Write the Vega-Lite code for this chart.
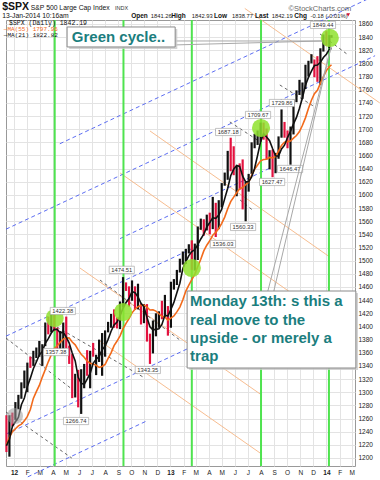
{
"$schema": "https://vega.github.io/schema/vega-lite/v6.json",
"width": 349, "height": 446,
"autosize": {"type": "none"},
"padding": {"left": 6, "top": 20, "right": 25, "bottom": 14},
"background": "white",
"config": {"view": {"stroke": "#999", "strokeWidth": 1}, "font": "Liberation Sans", "axisY": {"labelOverlap": false, "tickCount": 40}},
"datasets": {
"px": [
{"d":"2011-12-14","o":1255,"h":1265,"l":1209,"c":1219,"m21":1218.6,"m55":1220.3},
{"d":"2011-12-21","o":1219,"h":1265,"l":1202,"c":1265,"m21":1228.4,"m55":1231.5},
{"d":"2011-12-28","o":1265,"h":1269,"l":1248,"c":1258,"m21":1248.2,"m55":1240.1},
{"d":"2012-01-04","o":1258,"h":1285,"l":1258,"c":1278,"m21":1255,"m55":1244.5},
{"d":"2012-01-11","o":1278,"h":1296,"l":1274,"c":1289,"m21":1261.8,"m55":1248.8},
{"d":"2012-01-18","o":1290,"h":1315,"l":1290,"c":1315,"m21":1281,"m55":1251.3},
{"d":"2012-01-25","o":1315,"h":1333,"l":1306,"c":1316,"m21":1291.2,"m55":1256.5},
{"d":"2012-02-01","o":1316,"h":1345,"l":1300,"c":1345,"m21":1308.6,"m55":1263.3},
{"d":"2012-02-08","o":1344,"h":1354,"l":1337,"c":1342,"m21":1321.4,"m55":1273.8},
{"d":"2012-02-15","o":1343,"h":1363,"l":1340,"c":1361,"m21":1335.8,"m55":1290.6},
{"d":"2012-02-22","o":1362,"h":1368,"l":1352,"c":1366,"m21":1346,"m55":1300.8},
{"d":"2012-02-29","o":1366,"h":1378,"l":1354,"c":1370,"m21":1356.8,"m55":1310.3},
{"d":"2012-03-07","o":1370,"h":1373,"l":1340,"c":1371,"m21":1362,"m55":1323},
{"d":"2012-03-14","o":1371,"h":1406,"l":1370,"c":1404,"m21":1374.4,"m55":1334.6},
{"d":"2012-03-21","o":1404,"h":1415,"l":1388,"c":1397,"m21":1381.6,"m55":1346.2},
{"d":"2012-03-28","o":1397,"h":1419,"l":1391,"c":1408,"m21":1390,"m55":1357},
{"d":"2012-04-04","o":1408,"h":1422,"l":1393,"c":1398,"m21":1395.6,"m55":1366.1},
{"d":"2012-04-11","o":1398,"h":1398,"l":1357,"c":1370,"m21":1395.4,"m55":1370.7},
{"d":"2012-04-18","o":1370,"h":1393,"l":1360,"c":1378,"m21":1390.2,"m55":1375.8},
{"d":"2012-04-25","o":1378,"h":1406,"l":1366,"c":1403,"m21":1391.4,"m55":1380.7},
{"d":"2012-05-02","o":1403,"h":1415,"l":1367,"c":1369,"m21":1383.6,"m55":1382.9},
{"d":"2012-05-09","o":1369,"h":1371,"l":1343,"c":1353,"m21":1374.6,"m55":1382.3},
{"d":"2012-05-16","o":1353,"h":1358,"l":1291,"c":1295,"m21":1359.6,"m55":1376.3},
{"d":"2012-05-23","o":1295,"h":1328,"l":1292,"c":1318,"m21":1347.6,"m55":1372},
{"d":"2012-05-30","o":1318,"h":1334,"l":1277,"c":1278,"m21":1322.6,"m55":1364.3},
{"d":"2012-06-06","o":1278,"h":1335,"l":1267,"c":1325,"m21":1313.8,"m55":1357.7},
{"d":"2012-06-13","o":1325,"h":1343,"l":1306,"c":1343,"m21":1311.8,"m55":1353.2},
{"d":"2012-06-20","o":1343,"h":1364,"l":1325,"c":1335,"m21":1319.8,"m55":1347.1},
{"d":"2012-06-27","o":1335,"h":1363,"l":1306,"c":1362,"m21":1328.6,"m55":1344.1},
{"d":"2012-07-04","o":1362,"h":1375,"l":1354,"c":1355,"m21":1344,"m55":1342.8},
{"d":"2012-07-11","o":1355,"h":1357,"l":1326,"c":1356,"m21":1350.2,"m55":1341},
{"d":"2012-07-18","o":1356,"h":1380,"l":1346,"c":1363,"m21":1354.2,"m55":1337.7},
{"d":"2012-07-25","o":1363,"h":1390,"l":1325,"c":1386,"m21":1364.4,"m55":1339.1},
{"d":"2012-08-01","o":1386,"h":1394,"l":1354,"c":1391,"m21":1370.2,"m55":1342.3},
{"d":"2012-08-08","o":1391,"h":1407,"l":1391,"c":1406,"m21":1380.4,"m55":1351.5},
{"d":"2012-08-15","o":1406,"h":1419,"l":1398,"c":1418,"m21":1392.8,"m55":1359.8},
{"d":"2012-08-22","o":1418,"h":1426,"l":1398,"c":1411,"m21":1402.4,"m55":1370.9},
{"d":"2012-08-29","o":1411,"h":1414,"l":1397,"c":1407,"m21":1406.6,"m55":1377.8},
{"d":"2012-09-05","o":1407,"h":1438,"l":1396,"c":1438,"m21":1416,"m55":1385.7},
{"d":"2012-09-12","o":1438,"h":1475,"l":1429,"c":1466,"m21":1428,"m55":1396.6},
{"d":"2012-09-19","o":1466,"h":1467,"l":1454,"c":1460,"m21":1436.4,"m55":1404.8},
{"d":"2012-09-26","o":1460,"h":1461,"l":1430,"c":1441,"m21":1442.4,"m55":1411.9},
{"d":"2012-10-03","o":1441,"h":1470,"l":1439,"c":1461,"m21":1453.2,"m55":1420.7},
{"d":"2012-10-10","o":1461,"h":1461,"l":1425,"c":1429,"m21":1451.4,"m55":1426.2},
{"d":"2012-10-17","o":1429,"h":1465,"l":1426,"c":1433,"m21":1444.8,"m55":1430.1},
{"d":"2012-10-24","o":1433,"h":1435,"l":1403,"c":1412,"m21":1435.2,"m55":1431.8},
{"d":"2012-10-31","o":1412,"h":1434,"l":1405,"c":1414,"m21":1429.8,"m55":1432.5},
{"d":"2012-11-07","o":1414,"h":1434,"l":1377,"c":1380,"m21":1413.6,"m55":1429.3},
{"d":"2012-11-14","o":1380,"h":1389,"l":1343,"c":1359,"m21":1399.6,"m55":1425},
{"d":"2012-11-21","o":1359,"h":1409,"l":1359,"c":1409,"m21":1394.8,"m55":1425.2},
{"d":"2012-11-28","o":1409,"h":1420,"l":1385,"c":1416,"m21":1395.6,"m55":1423.3},
{"d":"2012-12-05","o":1416,"h":1423,"l":1398,"c":1418,"m21":1396.4,"m55":1419.3},
{"d":"2012-12-12","o":1418,"h":1439,"l":1411,"c":1413,"m21":1403,"m55":1415.4},
{"d":"2012-12-19","o":1413,"h":1448,"l":1413,"c":1430,"m21":1417.2,"m55":1414.5},
{"d":"2012-12-26","o":1430,"h":1431,"l":1386,"c":1402,"m21":1415.8,"m55":1409.6},
{"d":"2013-01-02","o":1402,"h":1468,"l":1398,"c":1466,"m21":1425.8,"m55":1412.7},
{"d":"2013-01-09","o":1466,"h":1472,"l":1456,"c":1472,"m21":1436.6,"m55":1415.9},
{"d":"2013-01-16","o":1472,"h":1486,"l":1463,"c":1486,"m21":1451.2,"m55":1422.1},
{"d":"2013-01-23","o":1486,"h":1503,"l":1482,"c":1503,"m21":1465.8,"m55":1429.5},
{"d":"2013-01-30","o":1503,"h":1514,"l":1494,"c":1513,"m21":1488,"m55":1440.6},
{"d":"2013-02-06","o":1513,"h":1518,"l":1495,"c":1518,"m21":1498.4,"m55":1453.8},
{"d":"2013-02-13","o":1518,"h":1525,"l":1511,"c":1519,"m21":1507.8,"m55":1463},
{"d":"2013-02-20","o":1519,"h":1531,"l":1486,"c":1516,"m21":1513.8,"m55":1471.3},
{"d":"2013-02-27","o":1516,"h":1526,"l":1485,"c":1518,"m21":1516.8,"m55":1479.7},
{"d":"2013-03-06","o":1518,"h":1552,"l":1501,"c":1551,"m21":1524.4,"m55":1491.2},
{"d":"2013-03-13","o":1551,"h":1564,"l":1547,"c":1561,"m21":1533,"m55":1502.1},
{"d":"2013-03-20","o":1561,"h":1563,"l":1538,"c":1556,"m21":1540.4,"m55":1514.9},
{"d":"2013-03-27","o":1556,"h":1570,"l":1546,"c":1569,"m21":1551,"m55":1523.5},
{"d":"2013-04-03","o":1569,"h":1573,"l":1540,"c":1553,"m21":1558,"m55":1530.3},
{"d":"2013-04-10","o":1553,"h":1597,"l":1548,"c":1588,"m21":1565.4,"m55":1538.8},
{"d":"2013-04-17","o":1588,"h":1588,"l":1536,"c":1555,"m21":1564.2,"m55":1543.1},
{"d":"2013-04-24","o":1555,"h":1592,"l":1548,"c":1582,"m21":1569.4,"m55":1548.8},
{"d":"2013-05-01","o":1582,"h":1618,"l":1581,"c":1614,"m21":1578.4,"m55":1556.8},
{"d":"2013-05-08","o":1614,"h":1634,"l":1614,"c":1633,"m21":1594.4,"m55":1566.3},
{"d":"2013-05-15","o":1633,"h":1667,"l":1623,"c":1667,"m21":1610.2,"m55":1578.9},
{"d":"2013-05-22","o":1667,"h":1687,"l":1636,"c":1650,"m21":1629.2,"m55":1589.9},
{"d":"2013-05-29","o":1650,"h":1674,"l":1630,"c":1631,"m21":1639,"m55":1596.6},
{"d":"2013-06-05","o":1631,"h":1644,"l":1598,"c":1643,"m21":1644.8,"m55":1603.4},
{"d":"2013-06-12","o":1643,"h":1648,"l":1608,"c":1626,"m21":1643.4,"m55":1609.3},
{"d":"2013-06-19","o":1626,"h":1654,"l":1578,"c":1593,"m21":1628.6,"m55":1611.3},
{"d":"2013-06-26","o":1593,"h":1620,"l":1560,"c":1606,"m21":1619.8,"m55":1615.7},
{"d":"2013-07-03","o":1606,"h":1632,"l":1605,"c":1632,"m21":1620,"m55":1619.3},
{"d":"2013-07-10","o":1632,"h":1680,"l":1632,"c":1680,"m21":1627.4,"m55":1629.8},
{"d":"2013-07-17","o":1680,"h":1693,"l":1671,"c":1692,"m21":1640.6,"m55":1638.9},
{"d":"2013-07-24","o":1692,"h":1698,"l":1676,"c":1692,"m21":1660.4,"m55":1645.4},
{"d":"2013-07-31","o":1692,"h":1710,"l":1681,"c":1710,"m21":1681.2,"m55":1651.8},
{"d":"2013-08-07","o":1710,"h":1710,"l":1684,"c":1691,"m21":1693,"m55":1653.8},
{"d":"2013-08-14","o":1691,"h":1701,"l":1654,"c":1655,"m21":1688,"m55":1654.3},
{"d":"2013-08-21","o":1655,"h":1668,"l":1639,"c":1664,"m21":1682.4,"m55":1657},
{"d":"2013-08-28","o":1664,"h":1669,"l":1627,"c":1633,"m21":1670.6,"m55":1656.2},
{"d":"2013-09-04","o":1633,"h":1664,"l":1633,"c":1655,"m21":1659.6,"m55":1658.6},
{"d":"2013-09-11","o":1655,"h":1689,"l":1655,"c":1688,"m21":1659,"m55":1666.5},
{"d":"2013-09-18","o":1688,"h":1730,"l":1687,"c":1710,"m21":1670,"m55":1675.2},
{"d":"2013-09-25","o":1710,"h":1711,"l":1687,"c":1692,"m21":1675.6,"m55":1680.2},
{"d":"2013-10-02","o":1692,"h":1698,"l":1671,"c":1691,"m21":1687.2,"m55":1681.1},
{"d":"2013-10-09","o":1691,"h":1704,"l":1646,"c":1703,"m21":1696.8,"m55":1682},
{"d":"2013-10-16","o":1703,"h":1745,"l":1692,"c":1744,"m21":1708,"m55":1686.3},
{"d":"2013-10-23","o":1744,"h":1759,"l":1741,"c":1759,"m21":1717.8,"m55":1690.4},
{"d":"2013-10-30","o":1759,"h":1775,"l":1752,"c":1762,"m21":1731.8,"m55":1696.3},
{"d":"2013-11-06","o":1762,"h":1771,"l":1746,"c":1771,"m21":1747.8,"m55":1706},
{"d":"2013-11-13","o":1771,"h":1798,"l":1761,"c":1798,"m21":1766.8,"m55":1717.2},
{"d":"2013-11-20","o":1798,"h":1804,"l":1780,"c":1804,"m21":1778.8,"m55":1731.4},
{"d":"2013-11-27","o":1804,"h":1814,"l":1800,"c":1806,"m21":1788.2,"m55":1744},
{"d":"2013-12-04","o":1806,"h":1806,"l":1779,"c":1805,"m21":1796.8,"m55":1753.8},
{"d":"2013-12-11","o":1805,"h":1811,"l":1772,"c":1775,"m21":1797.6,"m55":1759.2},
{"d":"2013-12-18","o":1775,"h":1823,"l":1767,"c":1818,"m21":1801.6,"m55":1769.7},
{"d":"2013-12-25","o":1818,"h":1844,"l":1818,"c":1841,"m21":1809,"m55":1780},
{"d":"2014-01-01","o":1841,"h":1849,"l":1827,"c":1831,"m21":1814,"m55":1789},
{"d":"2014-01-08","o":1831,"h":1843,"l":1823,"c":1842,"m21":1821.4,"m55":1795},
{"d":"2014-01-13","o":1841,"h":1843,"l":1839,"c":1842,"m21":1822.8,"m55":1798}
]
},
"layer": [
{"data": {"values": [
{"d":"2013-06-24","v":1883.6,"d2":"2014-05-06","v2":1739.9},
{"d":"2012-11-14","v":1697.3,"d2":"2014-01-09","v2":1505.6},
{"d":"2012-09-05","v":1633.4,"d2":"2013-10-31","v2":1441.7},
{"d":"2012-06-03","v":1488.9,"d2":"2013-07-30","v2":1297.3},
{"d":"2012-07-20","v":1377.9,"d2":"2013-07-30","v2":1207.5}]},
"mark": {"type":"rule","color":"#f6b583","strokeWidth":0.9},
"encoding": {
"x": {"field":"d","type":"temporal","scale":{"domain":[{"year":2011,"month":12,"date":13},{"year":2014,"month":3,"date":9}]},"title":null,
"axis":{"tickCount":{"interval":"month","step":1},"labelExpr":"month(datum.value)==0 ? timeFormat(datum.value,'%y') : slice(timeFormat(datum.value,'%b'),0,1)","labelFontSize":6.5,"labelColor":"#222","labelFontWeight":{"condition":{"test":"month(datum.value)==0","value":"bold"},"value":"normal"},"grid":true,"gridColor":"#e3e3e3","ticks":false,"domain":false,"labelPadding":3,"labelOverlap":false,"labelFlush":false}},
"y": {"field":"v","type":"quantitative","scale":{"domain":[1187.8,1866],"nice":false,"zero":false},"title":null,
"axis":{"orient":"right","tickCount":40,"values":[1200,1220,1240,1260,1280,1300,1320,1340,1360,1380,1400,1420,1440,1460,1480,1500,1520,1540,1560,1580,1600,1620,1640,1660,1680,1700,1720,1740,1760,1780,1800,1820,1840,1860],"format":"d","labelOverlap":false,"labelFontSize":6.5,"labelColor":"#222","grid":true,"gridColor":"#e3e3e3","ticks":false,"domain":false,"labelPadding":3}},
"x2": {"field":"d2"}, "y2": {"field":"v2"}}},
{"data": {"values": [
{"d":"2012-02-02","v":1171.3,"d2":"2012-11-09","v2":1257.1},
{"d":"2011-12-13","v":1236.1,"d2":"2013-06-24","v2":1407.1},
{"d":"2011-12-13","v":1385.2,"d2":"2013-03-11","v2":1523.9},
{"d":"2012-09-05","v":1533.6,"d2":"2013-08-22","v2":1640.8},
{"d":"2011-12-13","v":1547.9,"d2":"2014-04-25","v2":1811.7},
{"d":"2012-04-17","v":1677.8,"d2":"2014-05-06","v2":1906.5}]},
"mark": {"type":"rule","color":"#4a5cf0","strokeWidth":0.9,"strokeDash":[4,3]},
"encoding": {
"x": {"field":"d","type":"temporal","scale":{"domain":[{"year":2011,"month":12,"date":13},{"year":2014,"month":3,"date":9}]},"title":null},
"y": {"field":"v","type":"quantitative","scale":{"domain":[1187.8,1866],"nice":false,"zero":false},"title":null},
"x2": {"field":"d2"}, "y2": {"field":"v2"}}},
{"data": {"values": [
{"d":"2011-12-13","v":1382.4,"d2":"2012-05-18","v2":1303.4},
{"d":"2011-12-13","v":1269.9,"d2":"2012-05-15","v2":1199.9},
{"d":"2012-04-10","v":1399.2,"d2":"2012-10-29","v2":1323.1},
{"d":"2012-07-20","v":1470.6,"d2":"2013-01-23","v2":1379.4},
{"d":"2013-09-14","v":1767.2,"d2":"2013-12-05","v2":1733.8},
{"d":"2013-05-20","v":1711,"d2":"2013-08-03","v2":1679},
{"d":"2013-06-13","v":1592.3,"d2":"2013-07-12","v2":1577.1},
{"d":"2013-12-17","v":1844.8,"d2":"2014-02-21","v2":1812.9}]},
"mark": {"type":"rule","color":"#555","strokeWidth":0.9,"strokeDash":[3,3]},
"encoding": {
"x": {"field":"d","type":"temporal","scale":{"domain":[{"year":2011,"month":12,"date":13},{"year":2014,"month":3,"date":9}]},"title":null},
"y": {"field":"v","type":"quantitative","scale":{"domain":[1187.8,1866],"nice":false,"zero":false},"title":null},
"x2": {"field":"d2"}, "y2": {"field":"v2"}}},
{"data": {"values": [{"d":"2012-04-05"},{"d":"2012-09-13"},{"d":"2013-02-20"},{"d":"2013-08-01"},{"d":"2014-01-07"}]},
"mark": {"type":"rule","color":"#4fe34f","strokeWidth":2},
"encoding": {
"x": {"field":"d","type":"temporal","scale":{"domain":[{"year":2011,"month":12,"date":13},{"year":2014,"month":3,"date":9}]},"title":null}}},
{"data": {"name":"px"},
"mark": {"type":"rule","strokeWidth":2.2},
"encoding": {
"x": {"field":"d","type":"temporal","scale":{"domain":[{"year":2011,"month":12,"date":13},{"year":2014,"month":3,"date":9}]},"title":null},
"y": {"field":"l","type":"quantitative","scale":{"domain":[1187.8,1866],"nice":false,"zero":false},"title":null},
"y2": {"field":"h"},
"color": {"condition":{"test":"datum.c >= datum.o","value":"#111111"},"value":"#e3123f"}}},
{"data": {"name":"px"},
"mark": {"type":"line","color":"#f26a1b","strokeWidth":1.6},
"encoding": {
"x": {"field":"d","type":"temporal","scale":{"domain":[{"year":2011,"month":12,"date":13},{"year":2014,"month":3,"date":9}]},"title":null},
"y": {"field":"m55","type":"quantitative","scale":{"domain":[1187.8,1866],"nice":false,"zero":false},"title":null}}},
{"data": {"name":"px"},
"mark": {"type":"line","color":"#111111","strokeWidth":1.6},
"encoding": {
"x": {"field":"d","type":"temporal","scale":{"domain":[{"year":2011,"month":12,"date":13},{"year":2014,"month":3,"date":9}]},"title":null},
"y": {"field":"m21","type":"quantitative","scale":{"domain":[1187.8,1866],"nice":false,"zero":false},"title":null}}},
{"data": {"values": [{"d":"2012-04-05","v":1412.9},{"d":"2012-09-12","v":1422},{"d":"2013-02-20","v":1488.9},{"d":"2013-08-01","v":1701.8},{"d":"2014-01-09","v":1838.7}]},
"mark": {"type":"point","filled":true,"color":"#8fe22e","opacity":0.85,"size":330,"shape":"circle"},
"encoding": {
"x": {"field":"d","type":"temporal","scale":{"domain":[{"year":2011,"month":12,"date":13},{"year":2014,"month":3,"date":9}]},"title":null},
"y": {"field":"v","type":"quantitative","scale":{"domain":[1187.8,1866],"nice":false,"zero":false},"title":null}}},
{"data": {"values": [{"d":"2012-01-03","v":1263.8}]},
"mark": {"type":"point","filled":true,"color":"#9a9a9a","opacity":0.55,"size":260,"shape":"circle"},
"encoding": {
"x": {"field":"d","type":"temporal","scale":{"domain":[{"year":2011,"month":12,"date":13},{"year":2014,"month":3,"date":9}]},"title":null},
"y": {"field":"v","type":"quantitative","scale":{"domain":[1187.8,1866],"nice":false,"zero":false},"title":null}}},
{"data": {"values": [
{"t":"1849.44","d":"2013-12-24","v":1858.5},
{"t":"1729.86","d":"2013-09-19","v":1739.8},
{"t":"1709.67","d":"2013-07-25","v":1721.6},
{"t":"1687.18","d":"2013-05-16","v":1695.7},
{"t":"1627.47","d":"2013-08-27","v":1619.7},
{"t":"1646.47","d":"2013-10-08","v":1639.5},
{"t":"1560.33","d":"2013-06-20","v":1551.3},
{"t":"1536.03","d":"2013-05-04","v":1525.4},
{"t":"1474.51","d":"2012-09-09","v":1486.1},
{"t":"1422.38","d":"2012-04-24","v":1423.5},
{"t":"1357.38","d":"2012-04-08","v":1361.1},
{"t":"1343.35","d":"2012-11-09","v":1333.8},
{"t":"1266.74","d":"2012-05-25","v":1256.2}]},
"layer": [
{"mark": {"type":"point","shape":"M-1.75,-0.5H1.75V0.5H-1.75Z","size":207,"filled":true,"fill":"#ffffff","stroke":"#9a9a9a","strokeWidth":0.6,"opacity":1}},
{"mark": {"type":"text","fontSize":5.8,"color":"#333","align":"center","baseline":"middle"},"encoding":{"text":{"field":"t"}}}],
"encoding": {
"x": {"field":"d","type":"temporal","scale":{"domain":[{"year":2011,"month":12,"date":13},{"year":2014,"month":3,"date":9}]},"title":null},
"y": {"field":"v","type":"quantitative","scale":{"domain":[1187.8,1866],"nice":false,"zero":false},"title":null}}},
{"data": {"values": [{"t":"$SPX (Daily) 1842.19","d":"2011-12-20","v":1860.8}]},
"mark": {"type":"text","font":"Liberation Mono","fontSize":6.5,"color":"#111","align":"left","baseline":"middle"},
"encoding": {
"x": {"field":"d","type":"temporal","scale":{"domain":[{"year":2011,"month":12,"date":13},{"year":2014,"month":3,"date":9}]},"title":null},
"y": {"field":"v","type":"quantitative","scale":{"domain":[1187.8,1866],"nice":false,"zero":false},"title":null},
"text": {"field":"t"}}},
{"data": {"values": [{"t":"—MA(55) 1797.96","d":"2011-12-08","v":1851.6}]},
"mark": {"type":"text","font":"Liberation Mono","fontSize":6,"color":"#f26a1b","align":"left","baseline":"middle"},
"encoding": {
"x": {"field":"d","type":"temporal","scale":{"domain":[{"year":2011,"month":12,"date":13},{"year":2014,"month":3,"date":9}]},"title":null},
"y": {"field":"v","type":"quantitative","scale":{"domain":[1187.8,1866],"nice":false,"zero":false},"title":null},
"text": {"field":"t"}}},
{"data": {"values": [{"t":"—MA(21) 1822.82","d":"2011-12-08","v":1842.5}]},
"mark": {"type":"text","font":"Liberation Mono","fontSize":6,"color":"#111","align":"left","baseline":"middle"},
"encoding": {
"x": {"field":"d","type":"temporal","scale":{"domain":[{"year":2011,"month":12,"date":13},{"year":2014,"month":3,"date":9}]},"title":null},
"y": {"field":"v","type":"quantitative","scale":{"domain":[1187.8,1866],"nice":false,"zero":false},"title":null},
"text": {"field":"t"}}},
{"data": {"values": [
{"d":"2013-08-17","v":1453.9,"d2":"2014-01-12","v2":1825},
{"d":"2013-08-31","v":1453.9,"d2":"2014-01-12","v2":1825},
{"d":"2013-01-12","v":1834.1,"d2":"2013-12-22","v2":1834.1},
{"d":"2013-01-12","v":1828.1,"d2":"2013-12-22","v2":1834.1}]},
"mark": {"type":"rule","color":"#a8a8a8","strokeWidth":1},
"encoding": {
"x": {"field":"d","type":"temporal","scale":{"domain":[{"year":2011,"month":12,"date":13},{"year":2014,"month":3,"date":9}]},"title":null},
"y": {"field":"v","type":"quantitative","scale":{"domain":[1187.8,1866],"nice":false,"zero":false},"title":null},
"x2": {"field":"d2"}, "y2": {"field":"v2"}}},
{"data": {"values": [
{"d":"2012-05-09","v":1822,"d2":"2013-01-17","v2":1852.4},
{"d":"2013-02-14","v":1333.8,"d2":"2014-03-16","v2":1450.9}]},
"mark": {"type":"rect","color":"#c8c8c8","opacity":0.8},
"encoding": {
"x": {"field":"d","type":"temporal","scale":{"domain":[{"year":2011,"month":12,"date":13},{"year":2014,"month":3,"date":9}]},"title":null},
"y": {"field":"v","type":"quantitative","scale":{"domain":[1187.8,1866],"nice":false,"zero":false},"title":null},
"x2": {"field":"d2"}, "y2": {"field":"v2"}}},
{"data": {"values": [
{"d":"2012-05-04","v":1825,"d2":"2013-01-12","v2":1855.4},
{"d":"2013-02-09","v":1336.8,"d2":"2014-03-11","v2":1453.9}]},
"mark": {"type":"rect","fill":"#ffffff","stroke":"#8a8a8a","strokeWidth":1},
"encoding": {
"x": {"field":"d","type":"temporal","scale":{"domain":[{"year":2011,"month":12,"date":13},{"year":2014,"month":3,"date":9}]},"title":null},
"y": {"field":"v","type":"quantitative","scale":{"domain":[1187.8,1866],"nice":false,"zero":false},"title":null},
"x2": {"field":"d2"}, "y2": {"field":"v2"}}},
{"data": {"values": [
{"t":"Green cycle..","d":"2012-05-15","v":1840.2},
{"t":"Monday 13th: s this a","d":"2013-02-16","v":1438.7},
{"t":"real move to the","d":"2013-02-16","v":1409.8},
{"t":"upside - or merely a","d":"2013-02-16","v":1382.4},
{"t":"trap","d":"2013-02-16","v":1355}]},
"mark": {"type":"text","font":"Liberation Sans","fontSize":15,"fontWeight":"bold","color":"#1b7e7e","align":"left","baseline":"middle"},
"encoding": {
"x": {"field":"d","type":"temporal","scale":{"domain":[{"year":2011,"month":12,"date":13},{"year":2014,"month":3,"date":9}]},"title":null},
"y": {"field":"v","type":"quantitative","scale":{"domain":[1187.8,1866],"nice":false,"zero":false},"title":null},
"text": {"field":"t"}}},
{"data": {"values": [{"t":"$SPX","d":"2011-12-04","v":1885.6}]},
"mark": {"type":"text","font":"Liberation Sans","fontSize":10.5,"fontWeight":"bold","color":"#111","align":"left","baseline":"middle"},
"encoding": {
"x": {"field":"d","type":"temporal","scale":{"domain":[{"year":2011,"month":12,"date":13},{"year":2014,"month":3,"date":9}]},"title":null},
"y": {"field":"v","type":"quantitative","scale":{"domain":[1187.8,1866],"nice":false,"zero":false},"title":null},
"text": {"field":"t"}}},
{"data": {"values": [{"t":"S&P 500 Large Cap Index","d":"2012-02-09","v":1884.6},{"t":"13-Jan-2014 10:16am","d":"2011-12-04","v":1872.2}]},
"mark": {"type":"text","font":"Liberation Sans","fontSize":6.8,"color":"#111","align":"left","baseline":"middle"},
"encoding": {
"x": {"field":"d","type":"temporal","scale":{"domain":[{"year":2011,"month":12,"date":13},{"year":2014,"month":3,"date":9}]},"title":null},
"y": {"field":"v","type":"quantitative","scale":{"domain":[1187.8,1866],"nice":false,"zero":false},"title":null},
"text": {"field":"t"}}},
{"data": {"values": [{"t":"INDX","d":"2012-08-24","v":1884.6}]},
"mark": {"type":"text","font":"Liberation Sans","fontSize":5.5,"color":"#333","align":"left","baseline":"middle"},
"encoding": {
"x": {"field":"d","type":"temporal","scale":{"domain":[{"year":2011,"month":12,"date":13},{"year":2014,"month":3,"date":9}]},"title":null},
"y": {"field":"v","type":"quantitative","scale":{"domain":[1187.8,1866],"nice":false,"zero":false},"title":null},
"text": {"field":"t"}}},
{"data": {"values": [{"t":"©StockCharts.com","d":"2014-02-28","v":1883}]},
"mark": {"type":"text","font":"Liberation Sans","fontSize":7.5,"color":"#666","align":"right","baseline":"middle"},
"encoding": {
"x": {"field":"d","type":"temporal","scale":{"domain":[{"year":2011,"month":12,"date":13},{"year":2014,"month":3,"date":9}]},"title":null},
"y": {"field":"v","type":"quantitative","scale":{"domain":[1187.8,1866],"nice":false,"zero":false},"title":null},
"text": {"field":"t"}}},
{"data": {"values": [{"t":"Open","d":"2012-10-01","v":1872.2},{"t":"High","d":"2013-01-03","v":1872.2},{"t":"Low","d":"2013-04-13","v":1872.2},{"t":"Last","d":"2013-07-18","v":1872.2},{"t":"Chg","d":"2013-10-18","v":1872.2}]},
"mark": {"type":"text","font":"Liberation Sans","fontSize":6.5,"fontWeight":"bold","color":"#111","align":"left","baseline":"middle"},
"encoding": {
"x": {"field":"d","type":"temporal","scale":{"domain":[{"year":2011,"month":12,"date":13},{"year":2014,"month":3,"date":9}]},"title":null},
"y": {"field":"v","type":"quantitative","scale":{"domain":[1187.8,1866],"nice":false,"zero":false},"title":null},
"text": {"field":"t"}}},
{"data": {"values": [{"t":"1841.26","d":"2012-11-16","v":1872.2},{"t":"1842.93","d":"2013-02-20","v":1872.2},{"t":"1838.77","d":"2013-05-25","v":1872.2},{"t":"1842.19","d":"2013-08-26","v":1872.2},{"t":"-0.18 (-0.01%)","d":"2013-11-25","v":1872.2}]},
"mark": {"type":"text","font":"Liberation Sans","fontSize":5.8,"color":"#222","align":"left","baseline":"middle"},
"encoding": {
"x": {"field":"d","type":"temporal","scale":{"domain":[{"year":2011,"month":12,"date":13},{"year":2014,"month":3,"date":9}]},"title":null},
"y": {"field":"v","type":"quantitative","scale":{"domain":[1187.8,1866],"nice":false,"zero":false},"title":null},
"text": {"field":"t"}}},
{"data": {"values": [{"d":"2014-02-21","v":1873.7}]},
"mark": {"type":"point","shape":"triangle-down","filled":true,"color":"#d0102a","size":14,"opacity":1},
"encoding": {
"x": {"field":"d","type":"temporal","scale":{"domain":[{"year":2011,"month":12,"date":13},{"year":2014,"month":3,"date":9}]},"title":null},
"y": {"field":"v","type":"quantitative","scale":{"domain":[1187.8,1866],"nice":false,"zero":false},"title":null}}}
]
}
